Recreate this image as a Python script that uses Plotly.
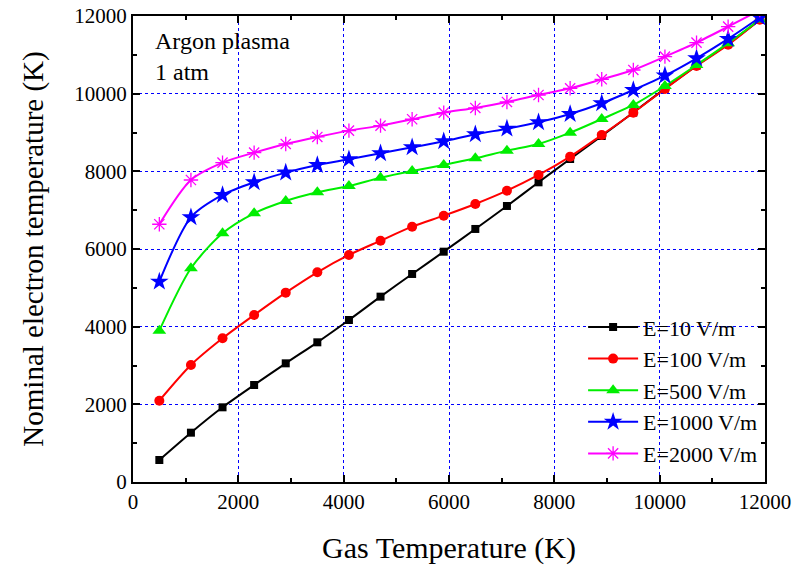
import plotly.graph_objects as go

gas_T = [500, 1100, 1700, 2300, 2900, 3500, 4100, 4700, 5300, 5900,
         6500, 7100, 7700, 8300, 8900, 9500, 10100, 10700, 11300, 11900]

te_E10 = [567, 1270, 1923, 2498, 3056, 3597, 4172, 4773, 5357, 5931,
          6516, 7108, 7717, 8318, 8910, 9515, 10130, 10720, 11280, 11900]
te_E100 = [2094, 3013, 3700, 4300, 4876, 5400, 5846, 6214, 6575, 6858,
           7159, 7502, 7906, 8378, 8936, 9510, 10121, 10714, 11260, 11905]
te_E500 = [3897, 5503, 6404, 6919, 7236, 7460, 7623, 7837, 8009, 8164,
           8336, 8533, 8704, 8996, 9348, 9709, 10198, 10739, 11300, 11910]
te_E1000 = [5159, 6816, 7391, 7717, 7966, 8164, 8310, 8464, 8618, 8773,
            8953, 9099, 9263, 9477, 9752, 10095, 10464, 10911, 11409, 11960]
te_E2000 = [6637, 7777, 8224, 8481, 8705, 8885, 9048, 9177, 9341, 9511,
            9632, 9786, 9966, 10138, 10370, 10610, 10953, 11314, 11725, 12150]

series = [
    ("E=10 V/m", te_E10, "black", "square", 8),
    ("E=100 V/m", te_E100, "red", "circle", 10),
    ("E=500 V/m", te_E500, "#00ee00", "triangle-up", 12),
    ("E=1000 V/m", te_E1000, "blue", "star", 14),
    ("E=2000 V/m", te_E2000, "magenta", "asterisk-open", 12),
]

fig = go.Figure()
for name, ys, color, sym, size in series:
    marker = dict(symbol=sym, size=size, color=color)
    if sym == "asterisk-open":
        marker["line"] = dict(color=color, width=1.3)
    fig.add_trace(go.Scatter(
        x=gas_T, y=ys, name=name, mode="lines+markers",
        line=dict(color=color, width=2, shape="spline", smoothing=0.8),
        marker=marker,
    ))

font_family = "Liberation Serif"
axis_common = dict(
    range=[0, 12000], dtick=2000, tickformat="d", ticks="inside", ticklen=7,
    tickwidth=1.5, tickcolor="black", showline=True, linecolor="black",
    linewidth=2, mirror="ticks", showgrid=True, gridcolor="blue",
    griddash="dot", gridwidth=1, zeroline=False, automargin=False,
    ticklabeloverflow="allow",
    minor=dict(ticks="inside", ticklen=4, dtick=1000, tickcolor="black",
               tickwidth=1.5, showgrid=False),
    tickfont=dict(family=font_family, size=21, color="black"),
)

fig.update_xaxes(**axis_common,
                 title=dict(text="Gas Temperature (K)", standoff=24,
                            font=dict(family=font_family, size=30, color="black")))
fig.update_yaxes(**axis_common,
                 title=dict(text="Nominal electron temperature (K)", standoff=22,
                            font=dict(family=font_family, size=29, color="black")))

fig.add_annotation(text="Argon plasma<br>1 atm", xref="paper", yref="paper",
                   x=0.032, y=0.978, xanchor="left", yanchor="top", showarrow=False,
                   align="left", font=dict(family=font_family, size=24, color="black"))

fig.update_layout(
    width=794, height=568,
    margin=dict(l=133, r=29, t=16, b=86, autoexpand=False),
    paper_bgcolor="white", plot_bgcolor="white",
    showlegend=True,
    legend=dict(x=0.997, y=0.197, xanchor="right", yanchor="middle",
                bgcolor="rgba(255,255,255,0)", tracegroupgap=0,
                font=dict(family=font_family, size=22, color="black"),
                itemwidth=50),
)

# remove the page's default body margin so the figure fills the window
fig.write_html("out.html",
               config={"displayModeBar": False},
               post_script="document.body.style.margin='0';document.body.style.overflow='hidden';")
